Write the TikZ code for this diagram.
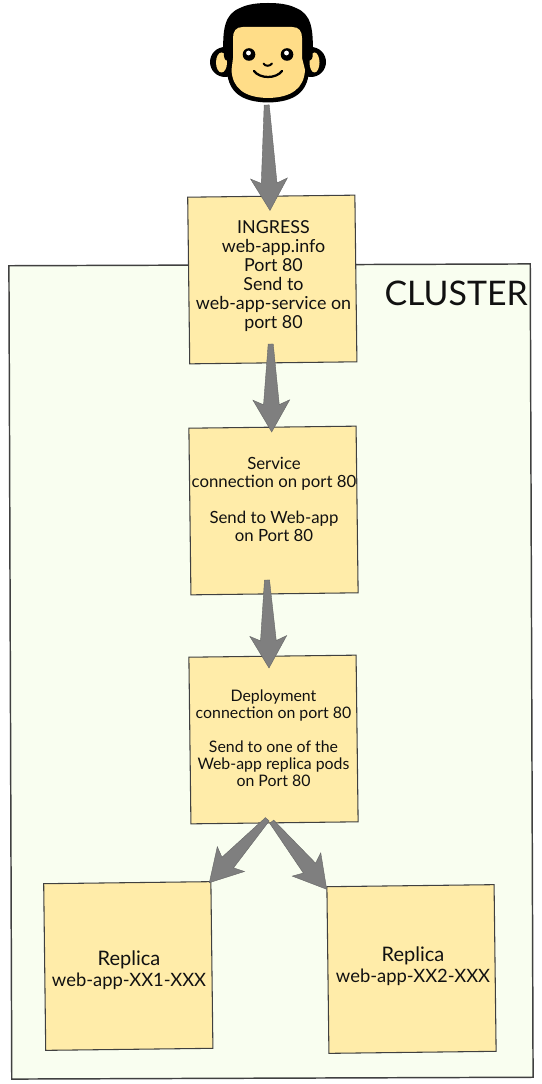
\documentclass[tikz,border=0pt]{standalone}
\usepackage{fontspec}
\setmainfont{Lato}
\usetikzlibrary{calc}
\definecolor{boxfill}{HTML}{FFECA9}
\definecolor{boxline}{HTML}{404040}
\definecolor{clusterfill}{HTML}{F9FEF0}
\definecolor{arrowgray}{HTML}{7F7F7F}
\definecolor{skin}{HTML}{FFDD88}
\definecolor{inktext}{HTML}{111111}
\tikzset{
  sticky/.style={draw=boxline,fill=boxfill,line width=0.8pt,minimum width=125.4pt,minimum height=125pt,inner sep=0pt,rotate=0.7},
  clusterbox/.style={draw=boxline,fill=clusterfill,line width=1.1pt,minimum width=391pt,minimum height=610pt,inner sep=0pt,rotate=0.2},
  boxtext/.style={align=center,text=inktext,inner sep=0pt},
  ingressfont/.style={font=\fontsize{13.4}{14.25}\selectfont},
  servicefont/.style={font=\fontsize{12.6}{13.5}\selectfont},
  deployfont/.style={font=\fontsize{11.9}{12.8}\selectfont},
  replicafont/.style={font=\fontsize{13.8}{15.75}\selectfont},
  titlefont/.style={font=\fontsize{25.4}{30}\selectfont},
  fat/.style={fill=arrowgray,draw=arrowgray!80!black,line width=0.3pt,line join=miter},
}
\newcommand{\replicaword}{{\fontsize{15}{15.75}\selectfont Replica}}
\newcommand{\fatarrow}[2]{%
  \coordinate (bk) at ($(#2)!24pt!(#1)$);
  \coordinate (nt) at ($(#2)!20.5pt!(#1)$);
  \draw[fat] ($(#1)!1.9pt!-90:(#2)$)
    -- ($(nt)!5.9pt!-90:(#2)$)
    -- ($(bk)!13.8pt!-90:(#2)$)
    -- (#2)
    -- ($(bk)!13.8pt!90:(#2)$)
    -- ($(nt)!5.9pt!90:(#2)$)
    -- ($(#1)!1.9pt!90:(#2)$) -- cycle;
}
\begin{document}
\begin{tikzpicture}[x=0.75pt,y=-0.75pt]
\useasboundingbox (0,0) rectangle (542,1084);
% cluster
\node[clusterbox] (cluster) at (271,671.5) {};
\node[boxtext,titlefont,anchor=east] (clustertitle) at (528,293) {CLUSTER};
% boxes
\node[sticky] (ingress) at (272.3,279.5) {};
\node[sticky] (service) at (273.5,510.5) {};
\node[sticky] (deploy) at (273.5,739.5) {};
\node[sticky] (replicaA) at (128.3,966) {};
\node[sticky] (replicaB) at (411.5,969) {};
% texts
\node[boxtext,ingressfont] (ingresstext) at (273.5,276) {INGRESS\\web-app.info\\Port 80\\Send to\\web-app-service on\\port 80};
\node[boxtext,servicefont] (servicetext) at (274,499) {Service\\connection on port 80\\~\\Send to Web-app\\on Port 80};
\node[boxtext,deployfont] (deploytext) at (273.5,738) {Deployment\\connection on port 80\\~\\Send to one of the\\Web-app replica pods\\on Port 80};
\node[boxtext,replicafont] (replicaAtext) at (129,970.5) {\replicaword\\web-app-XX1-XXX};
\node[boxtext,replicafont] (replicaBtext) at (413,966) {\replicaword\\web-app-XX2-XXX};
% user face
\coordinate (user) at (266.7,105);
\fill[black] (225,62) circle (15);
\fill[black] (311,62) circle (15);
\fill[black] (223.5,58) .. controls (222,28) and (225,14) .. (240,8)
  .. controls (248,4) and (258,3) .. (268,3)
  .. controls (278,3) and (288,4) .. (296,8)
  .. controls (311,14) and (314,28) .. (312.5,58)
  -- (309,72) .. controls (307,92) and (295,102) .. (268,102.5)
  .. controls (241,102) and (229,92) .. (227,72) -- cycle;
\fill[skin] (221.5,62.5) ellipse (5.5 and 10);
\fill[skin] (314.5,62.5) ellipse (5 and 10);
\fill[skin] (233,38) .. controls (233,31) and (236,27) .. (243,27)
  -- (292,27) .. controls (299,27) and (302,31) .. (302,38)
  -- (302,58) -- (305,70)
  .. controls (304,88) and (292,97.5) .. (268,98)
  .. controls (244,97.5) and (232.5,88) .. (231.5,70) -- (233,58) -- cycle;
\fill[black] (223.5,45) -- (232.8,45) -- (232.8,56) .. controls (232.8,63) and (224.5,63) .. (224,56) -- cycle;
\fill[black] (303,45) -- (312.7,45) -- (312.7,56) .. controls (312,63) and (303,63) .. (303,56) -- cycle;
\fill[black] (249,54.5) circle (6.3);
\fill[black] (287,54.5) circle (6.3);
\fill[white] (248.5,53) circle (2.4);
\fill[white] (286.5,53) circle (2.4);
\draw[black,line width=1.5pt,line cap=round] (263.5,63.5) .. controls (265,66.5) and (270,66.5) .. (272,63.5);
\draw[black,line width=1.7pt,line cap=round] (254,71) .. controls (260,79) and (276,79) .. (282,71);
% connectors
\coordinate (ingressin) at (270,210.5);
\coordinate (ingressout) at (270.7,344);
\coordinate (servicein) at (271.7,432);
\coordinate (serviceout) at (267,580);
\coordinate (deployin) at (269,668);
\coordinate (deployoutA) at (267.3,819.3);
\coordinate (replicaAin) at (209.3,882.7);
\coordinate (deployoutB) at (271.7,821.7);
\coordinate (replicaBin) at (326.7,889.3);
\fatarrow{user}{ingressin}
\fatarrow{ingressout}{servicein}
\fatarrow{serviceout}{deployin}
\fatarrow{deployoutA}{replicaAin}
\fatarrow{deployoutB}{replicaBin}
\end{tikzpicture}
\end{document}
